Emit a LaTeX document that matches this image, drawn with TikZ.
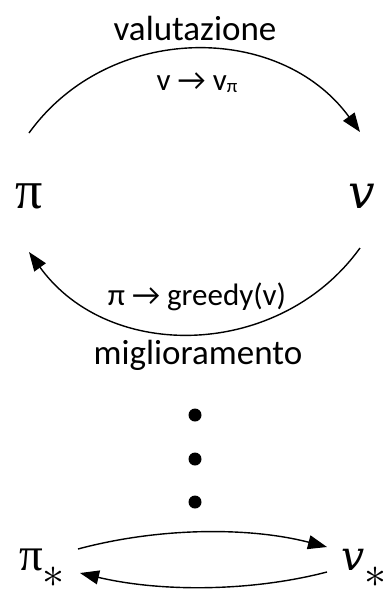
\documentclass[tikz,border=0pt]{standalone}
\usepackage{fontspec}
\setmainfont{Carlito}
\newfontfamily\pifont{Liberation Serif}
\newfontfamily\vfont{DejaVu Serif}
\usetikzlibrary{arrows.meta}
\tikzset{
  conn/.style={line width=1.4pt,-{Triangle[length=19pt,width=14pt]}},
  lbl/.style={anchor=base,inner sep=0pt,font=\fontsize{35}{37}\selectfont},
  sublbl/.style={anchor=base,inner sep=0pt,font=\fontsize{31}{33}\selectfont},
  pisym/.style={anchor=base,inner sep=0pt,font=\fontsize{54}{56}\selectfont\pifont},
  vsym/.style={anchor=base,inner sep=0pt,font=\fontsize{47}{50}\selectfont\vfont\itshape},
  pismall/.style={anchor=base west,inner sep=0pt,font=\fontsize{47}{50}\selectfont\pifont},
  vsmall/.style={anchor=base east,inner sep=0pt,font=\fontsize{41}{44}\selectfont\vfont\itshape},
  dot/.style={circle,fill=black,inner sep=0pt,minimum size=13pt}
}
\newcommand{\starsub}{\raisebox{-17pt}{\scalebox{4.4}{\upshape\fontsize{10}{12}\selectfont$\ast$}}}
\begin{document}
\begin{tikzpicture}[x=1pt,y=-1pt]
\useasboundingbox (0,0) rectangle (388,590);
% labels
\node[lbl] (val) at (195,40) {valutazione};
\node[sublbl] (vvp) at (197,90) {v → v\raisebox{-0.2ex}{\fontsize{19}{20}\selectfont π}};
\node[sublbl] (greedy) at (197,305) {π → greedy(v)};
\node[lbl] (migl) at (198,364) {miglioramento};
% main symbols
\node[pisym] (pi) at (29,208) {π};
\node[vsym] (v) at (362,208) {v};
% top arc
\coordinate (ta) at (29,133);
\coordinate (tb) at (360,132);
\draw[conn] (ta) .. controls (109,22) and (280,22) .. (tb);
% bottom arc
\coordinate (ba) at (360,248);
\coordinate (bb) at (29,252);
\draw[conn] (ba) .. controls (280,359) and (109,363) .. (bb);
% dots
\node[dot] (d1) at (195,415) {};
\node[dot] (d2) at (195,459) {};
\node[dot] (d3) at (195,502) {};
% bottom pair
\node[pismall] (pis) at (19,570) {π\starsub};
\node[vsmall] (vs) at (387,570) {v\starsub};
\coordinate (ua) at (78,549);
\coordinate (ub) at (327,547);
\draw[conn] (ua) .. controls (160,527) and (250,527) .. (ub);
\coordinate (la) at (327,572);
\coordinate (lb) at (80,573);
\draw[conn] (la) .. controls (250,592) and (160,592) .. (lb);
\end{tikzpicture}
\end{document}
